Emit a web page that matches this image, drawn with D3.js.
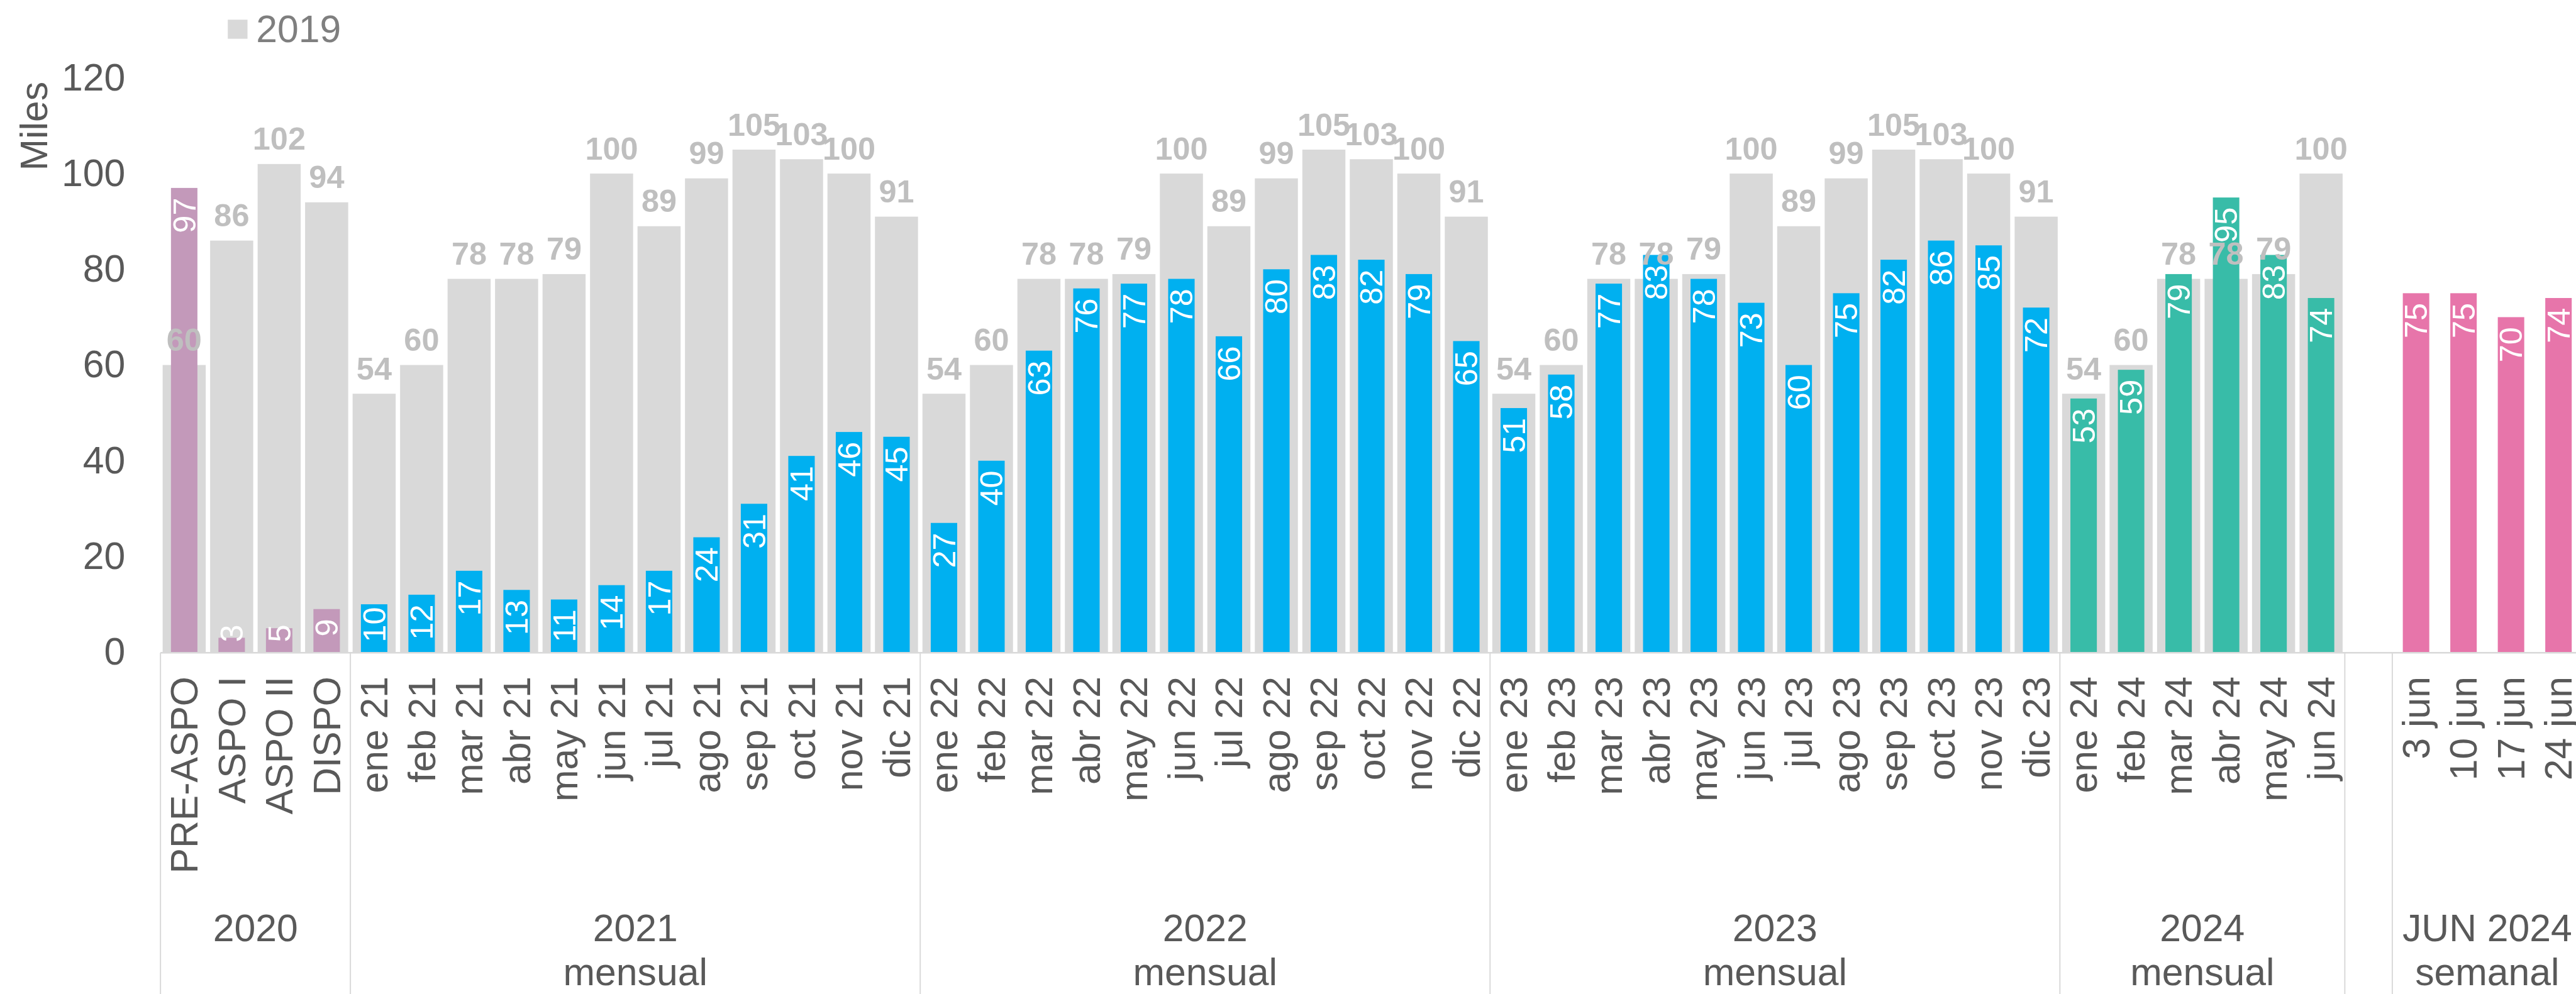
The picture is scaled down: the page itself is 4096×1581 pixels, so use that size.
<!DOCTYPE html>
<html>
<head>
<meta charset="utf-8">
<script src="https://cdn.jsdelivr.net/npm/d3@7"></script>
<style>
  html, body { margin: 0; padding: 0; background: #fff; }
  svg { display: block; font-family: "Liberation Sans", Arial, sans-serif; }
</style>
</head>
<body>
<div id="chart"></div>
<script>
/* global d3 */

const categories= [
  'PRE-ASPO', 'ASPO I', 'ASPO II', 'DISPO',
  'ene 21', 'feb 21', 'mar 21', 'abr 21', 'may 21', 'jun 21', 'jul 21', 'ago 21', 'sep 21', 'oct 21', 'nov 21', 'dic 21',
  'ene 22', 'feb 22', 'mar 22', 'abr 22', 'may 22', 'jun 22', 'jul 22', 'ago 22', 'sep 22', 'oct 22', 'nov 22', 'dic 22',
  'ene 23', 'feb 23', 'mar 23', 'abr 23', 'may 23', 'jun 23', 'jul 23', 'ago 23', 'sep 23', 'oct 23', 'nov 23', 'dic 23',
  'ene 24', 'feb 24', 'mar 24', 'abr 24', 'may 24', 'jun 24',
  '',
  '3 jun', '10 jun', '17 jun', '24 jun'
];

const groupLabels= [['2020'], ['2021', 'mensual'], ['2022', 'mensual'], ['2023', 'mensual'], ['2024', 'mensual'], [], ['JUN 2024', 'semanal']];
const groupSizes= [4, 12, 12, 12, 6, 1, 4];
const groupColors= ['#C399BA', '#00B0F0', '#00B0F0', '#00B0F0', '#38BCA8', '#FFFFFF', '#E775AA'];

const values2019= [
  60, 86, 102, 94,
  54, 60, 78, 78, 79, 100, 89, 99, 105, 103, 100, 91,
  54, 60, 78, 78, 79, 100, 89, 99, 105, 103, 100, 91,
  54, 60, 78, 78, 79, 100, 89, 99, 105, 103, 100, 91,
  54, 60, 78, 78, 79, 100,
  null,
  null, null, null, null
];

const valuesActual= [
  97, 3, 5, 9,
  10, 12, 17, 13, 11, 14, 17, 24, 31, 41, 46, 45,
  27, 40, 63, 76, 77, 78, 66, 80, 83, 82, 79, 65,
  51, 58, 77, 83, 78, 73, 60, 75, 82, 86, 85, 72,
  53, 59, 79, 95, 83, 74,
  null,
  75, 75, 70, 74
];

const yTicks= [0, 20, 40, 60, 80, 100, 120];
const legendLabel= '2019';
const yTitle= 'Miles';

// reference is 4183x1615, page is drawn at 0.979
const K= 0.979;
const W= 4096, H= 1581;
const REF_H= 1615;
const FS= 62, FS_LBL= 51.5;
const TXT= '#595959', GRAY_BAR= '#D9D9D9', GRAY_LBL= '#BFBFBF', LINE= '#D9D9D9';

const svg= d3.select('#chart').append('svg')
  .attr('width', W)
  .attr('height', H);

const root= svg.append('g').attr('transform', `scale(${K})`);

const x= d3.scaleBand()
  .domain(d3.range(categories.length))
  .range([260.6, 4194])
  .paddingInner(0).paddingOuter(0);
const step= x.step();
const x0= x.range()[0];

const y= d3.scaleLinear().domain([0, 120]).range([1059.5, 126.5]);

// colour of each category from its group
const catColor= [];
groupSizes.forEach((n, gi) => { for (let i= 0; i<n; i++) catColor.push(groupColors[gi]); });

const idx= d3.range(categories.length);
const cx= i => x(i)+step/2;

// y axis labels
root.append('g')
  .attr('transform', `translate(${x0},0)`)
  .call(d3.axisLeft(y).tickValues(yTicks).tickSize(0).tickPadding(57))
  .call(g => g.select('.domain').remove())
  .call(g => g.selectAll('text')
    .attr('font-size', FS)
    .attr('font-family', '"Liberation Sans", Arial, sans-serif')
    .attr('fill', TXT));

root.append('text')
  .attr('transform', 'translate(77,205) rotate(-90)')
  .attr('text-anchor', 'middle')
  .attr('font-size', FS)
  .attr('fill', TXT)
  .text(yTitle);

// legend
root.append('rect')
  .attr('x', 370).attr('y', 32)
  .attr('width', 32).attr('height', 31)
  .attr('fill', GRAY_BAR);
root.append('text')
  .attr('x', 416).attr('y', 68)
  .attr('font-size', FS)
  .attr('fill', '#7F7F7F')
  .text(legendLabel);

// 2019 bars
const gw= step*0.907, cw= step*0.557;
root.append('g').selectAll('rect')
  .data(idx.filter(i => values2019[i]!=null))
  .join('rect')
  .attr('x', i => cx(i)-gw/2)
  .attr('y', i => y(values2019[i]))
  .attr('width', gw)
  .attr('height', i => y(0)-y(values2019[i]))
  .attr('fill', GRAY_BAR);

// actual bars
root.append('g').selectAll('rect')
  .data(idx.filter(i => valuesActual[i]!=null))
  .join('rect')
  .attr('x', i => cx(i)-cw/2)
  .attr('y', i => y(valuesActual[i]))
  .attr('width', cw)
  .attr('height', i => y(0)-y(valuesActual[i]))
  .attr('fill', i => catColor[i]);

// 2019 labels, above the bars
root.append('g').selectAll('text')
  .data(idx.filter(i => values2019[i]!=null))
  .join('text')
  .attr('x', i => cx(i))
  .attr('y', i => y(values2019[i])-23)
  .attr('text-anchor', 'middle')
  .attr('font-size', FS_LBL)
  .attr('font-weight', 'bold')
  .attr('fill', GRAY_LBL)
  .text(i => values2019[i]);

// actual labels, rotated inside the end of the bar
const PAD= 16;
root.append('g').selectAll('text')
  .data(idx.filter(i => valuesActual[i]!=null))
  .join('text')
  .attr('text-anchor', 'end')
  .attr('dy', '0.35em')
  .attr('font-size', FS_LBL)
  .attr('fill', '#FFFFFF')
  .text(i => valuesActual[i])
  .attr('transform', function(i) {
    const len= this.getComputedTextLength();
    const top= Math.min(y(valuesActual[i])+PAD, y(0)-PAD-len);
    return `translate(${cx(i)},${top}) rotate(-90)`;
  });

// category axis line
root.append('line')
  .attr('x1', x0).attr('x2', x.range()[1])
  .attr('y1', 1060.5).attr('y2', 1060.5)
  .attr('stroke', LINE).attr('stroke-width', 2.5);

// group dividers
const bounds= [0];
groupSizes.forEach(n => bounds.push(bounds[bounds.length-1]+n));
root.append('g').selectAll('line')
  .data(bounds)
  .join('line')
  .attr('x1', k => x0+k*step).attr('x2', k => x0+k*step)
  .attr('y1', 1060.5).attr('y2', REF_H)
  .attr('stroke', LINE).attr('stroke-width', 2);

// category labels
root.append('g').selectAll('text')
  .data(idx.filter(i => categories[i]!==''))
  .join('text')
  .attr('transform', i => `translate(${cx(i)},1099) rotate(-90)`)
  .attr('text-anchor', 'end')
  .attr('dy', '0.35em')
  .attr('font-size', FS)
  .attr('fill', TXT)
  .text(i => categories[i]);

// group labels
const gLab= root.append('g');
groupLabels.forEach((lines, gi) => {
  const mid= x0+(bounds[gi]+groupSizes[gi]/2)*step;
  lines.forEach((t, li) => {
    gLab.append('text')
      .attr('x', mid)
      .attr('y', 1529+li*72)
      .attr('text-anchor', 'middle')
      .attr('font-size', FS)
      .attr('fill', TXT)
      .text(t);
  });
});
</script>
</body>
</html>
